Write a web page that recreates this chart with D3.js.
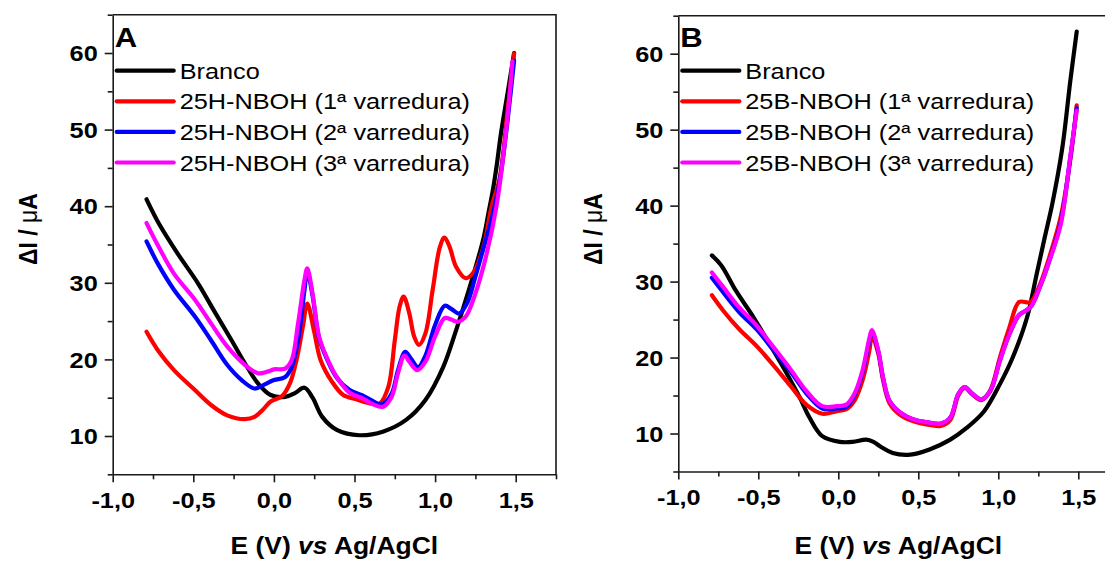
<!DOCTYPE html>
<html lang="pt">
<head>
<meta charset="UTF-8">
<title>DPV 25H-NBOH / 25B-NBOH</title>
<script src="https://d3js.org/d3.v7.min.js"></script>
<style>
  body { margin: 0; background: #fff; }
  svg text { font-family: Arial, "Liberation Sans", sans-serif; fill: #000; }
</style>
</head>
<body>
<svg id="chart" width="1105" height="561"></svg>
<script>
// ---- data: potential (V vs Ag/AgCl) and current (uA) ----
const xMajor = [-1.0, -0.5, 0.0, 0.5, 1.0, 1.5];
const xMinor = [-0.75, -0.25, 0.25, 0.75, 1.25, 1.75];
const yMajor = [10, 20, 30, 40, 50, 60];
const yMinor = [5, 15, 25, 35, 45, 55, 65];

// panel A
const eA_branco = [-0.79,-0.71,-0.6,-0.47,-0.37,-0.26,-0.18,-0.1,-0.02,0.07,0.13,0.19,0.24,0.3,0.39,0.53,0.68,0.82,0.94,1.05,1.13,1.21,1.3,1.33,1.36,1.38,1.41,1.45,1.49];
const iA_branco = [40.9,37.6,33.9,29.9,26.3,22.4,19.5,16.9,15.35,15.1,15.6,16.3,15.0,12.5,10.8,10.1,10.6,12.1,14.7,19.0,23.8,29.1,35.8,39.0,42.3,45.0,49.7,54.8,60.0];
const eA_scan1 = [-0.79,-0.72,-0.62,-0.49,-0.39,-0.29,-0.18,-0.12,-0.07,-0.02,0.05,0.1,0.14,0.18,0.207,0.25,0.29,0.36,0.43,0.51,0.59,0.655,0.71,0.75,0.78,0.805,0.84,0.87,0.9,0.94,0.985,1.03,1.058,1.09,1.13,1.19,1.24,1.3,1.35,1.4,1.45,1.49];
const iA_scan1 = [23.6,21.2,18.6,16.0,14.05,12.7,12.2,12.5,13.4,14.5,15.2,16.9,19.9,24.3,27.3,23.6,19.9,17.1,15.35,14.8,14.3,14.2,16.4,22.5,26.9,28.2,26.0,23.0,21.9,23.4,29.1,34.7,35.9,34.7,32.1,30.6,31.4,34.7,39.9,43.6,52.5,59.9];
const eA_scan2 = [-0.79,-0.72,-0.62,-0.49,-0.39,-0.29,-0.2,-0.12,-0.06,0.0,0.07,0.11,0.15,0.19,0.207,0.24,0.28,0.33,0.39,0.47,0.55,0.61,0.67,0.73,0.77,0.815,0.85,0.895,0.94,1.0,1.06,1.1,1.15,1.2,1.25,1.3,1.35,1.4,1.44,1.49];
const iA_scan2 = [35.4,32.5,29.1,25.6,22.5,19.3,17.3,16.2,16.7,17.3,17.7,19.0,22.5,29.1,31.5,28.3,22.8,20.0,17.6,16.0,15.3,14.6,14.1,15.5,18.6,21.0,20.1,19.0,20.5,24.5,27.0,26.6,26.0,27.4,30.8,34.5,38.3,43.2,49.5,59.0];
const eA_scan3 = [-0.79,-0.72,-0.62,-0.49,-0.39,-0.29,-0.18,-0.1,-0.04,0.0,0.07,0.11,0.15,0.19,0.207,0.24,0.28,0.325,0.39,0.47,0.55,0.61,0.675,0.73,0.77,0.81,0.84,0.89,0.94,1.0,1.06,1.1,1.14,1.19,1.25,1.32,1.38,1.44,1.48];
const iA_scan3 = [37.8,34.9,31.2,27.8,24.7,21.7,19.3,18.2,18.4,18.7,18.8,19.9,24.7,30.4,31.9,28.6,23.0,20.4,17.7,15.65,14.9,14.2,13.8,15.1,18.2,20.5,19.7,18.6,19.7,23.0,25.4,25.2,24.9,25.6,28.6,33.8,39.9,49.7,58.9];

// panel B
const eB_branco = [-0.79,-0.73,-0.64,-0.53,-0.43,-0.33,-0.24,-0.18,-0.1,0.01,0.09,0.175,0.22,0.27,0.34,0.45,0.57,0.7,0.8,0.91,1.01,1.09,1.18,1.24,1.29,1.34,1.4,1.45,1.49];
const iB_branco = [33.45,32.1,28.8,25.3,21.8,18.2,14.7,12.1,9.65,8.9,8.9,9.2,8.9,8.2,7.43,7.22,7.9,9.2,10.7,12.9,16.5,20.0,25.3,31.0,35.8,40.5,47.6,56.4,62.9];
const eB_scans = [-0.79,-0.72,-0.62,-0.51,-0.41,-0.3,-0.2,-0.1,-0.01,0.05,0.1,0.15,0.195,0.21,0.25,0.28,0.32,0.39,0.47,0.55,0.64,0.7,0.75,0.79,0.84,0.895,0.95,1.01,1.07,1.13,1.2,1.26,1.32,1.39,1.45,1.49];
const iB_scan1 = [28.2,26.2,23.75,21.5,19.1,16.3,13.8,12.6,12.95,13.2,14.3,16.9,21.0,22.9,20.5,17.0,14.0,12.4,11.6,11.2,11.0,11.8,15.0,16.0,15.1,14.4,15.7,20.0,24.0,27.3,27.3,29.6,33.3,38.5,46.0,53.2];
const iB_scan2 = [30.5,28.6,26.0,23.7,21.1,18.2,15.3,13.3,13.3,13.5,15.0,17.9,22.3,23.4,20.8,17.3,14.3,12.7,11.85,11.5,11.3,12.1,15.2,16.1,15.2,14.5,15.6,19.6,23.1,25.6,26.6,29.3,32.8,37.8,46.3,52.8];
const iB_scan3 = [31.2,29.3,26.6,24.2,21.5,18.5,15.6,13.6,13.6,13.8,15.2,18.2,22.6,23.6,20.9,17.35,14.3,12.7,11.85,11.5,11.3,12.1,15.2,16.1,15.2,14.5,15.6,19.6,23.1,25.6,26.6,29.3,32.8,37.5,46.5,52.5];

const colors = ["#000000", "#ff0000", "#0000ff", "#ff00ff"];
const namesA = ["Branco", "25H-NBOH (1ª varredura)", "25H-NBOH (2ª varredura)", "25H-NBOH (3ª varredura)"];
const namesB = ["Branco", "25B-NBOH (1ª varredura)", "25B-NBOH (2ª varredura)", "25B-NBOH (3ª varredura)"];

const SX = 1.15; // the original figure is slightly stretched horizontally
const svg = d3.select("#chart");
const zip = (e, i) => e.map((v, k) => ({ e: v, i: i[k] }));
const fmt = d => d.toFixed(1).replace(".", ",");

function drawPanel(p) {
    const x = d3.scaleLinear().domain([-1, 1.75]).range([p.left, p.right]);
    const y = d3.scaleLinear().domain([5, 65]).range([p.bottom, p.top]);
    const g = svg.append("g");

    // frame (top + right)
    g.append("path")
        .attr("d", `M${p.left},${p.top}H${p.right}V${p.bottom}`)
        .attr("fill", "none").attr("stroke", "#1a1a1a").attr("stroke-width", 1.6);

    // x axis
    const xa = g.append("g")
        .attr("transform", `translate(0,${p.bottom})`)
        .call(d3.axisBottom(x).tickValues(xMajor).tickSize(8).tickSizeOuter(0).tickFormat(fmt));
    g.append("g")
        .attr("transform", `translate(0,${p.bottom})`)
        .call(d3.axisBottom(x).tickValues(xMinor).tickSize(5).tickFormat(""))
        .call(s => s.select(".domain").remove());

    // y axis
    const ya = g.append("g")
        .attr("transform", `translate(${p.left},0)`)
        .call(d3.axisLeft(y).tickValues(yMajor).tickSize(8).tickSizeOuter(0).tickFormat(d3.format("d")));
    g.append("g")
        .attr("transform", `translate(${p.left},0)`)
        .call(d3.axisLeft(y).tickValues(yMinor).tickSize(5).tickFormat(""))
        .call(s => s.select(".domain").remove());

    g.selectAll(".domain, .tick line").attr("stroke", "#1a1a1a").attr("stroke-width", 1.6);
    [xa, ya].forEach(a => a.attr("font-size", 22).attr("font-weight", "bold")
        .attr("font-family", "Arial, 'Liberation Sans', sans-serif"));
    xa.selectAll("text").attr("y", 34).attr("dy", null).attr("transform", `scale(${SX},1)`);
    ya.selectAll("text").attr("x", -15 / SX).attr("dy", "0.35em").attr("transform", `scale(${SX},1)`);

    // curves
    const line = d3.line().x(d => x(d.e)).y(d => y(d.i)).curve(d3.curveCatmullRom.alpha(0.5));
    p.series.forEach((s, k) => {
        g.append("path").datum(s)
            .attr("d", line)
            .attr("fill", "none")
            .attr("stroke", colors[k])
            .attr("stroke-width", 4.2)
            .attr("stroke-linejoin", "round")
            .attr("stroke-linecap", "round");
    });

    // legend
    p.names.forEach((n, k) => {
        const ry = 70.7 + k * 30.6;
        g.append("line")
            .attr("x1", p.left + 4).attr("x2", p.left + 61)
            .attr("y1", ry).attr("y2", ry)
            .attr("stroke", colors[k]).attr("stroke-width", 4.2).attr("stroke-linecap", "round");
        g.append("text")
            .attr("transform", `translate(${p.left + 67},${ry + 8}) scale(${SX},1)`)
            .attr("font-size", 22)
            .text(n);
    });

    // panel letter
    g.append("text")
        .attr("transform", `translate(${p.left + 2},46.5) scale(${SX},1)`)
        .attr("font-size", 27).attr("font-weight", "bold")
        .text(p.letter);

    // axis titles
    const xt = g.append("text")
        .attr("transform", `translate(${(p.left + p.right) / 2},554) scale(${SX},1)`)
        .attr("text-anchor", "middle").attr("font-size", 23).attr("font-weight", "bold");
    xt.append("tspan").text("E (V) ");
    xt.append("tspan").attr("font-style", "italic").text("vs");
    xt.append("tspan").text(" Ag/AgCl");

    const yt = g.append("text")
        .attr("transform", `translate(${p.left - 76},229) scale(${SX},1) rotate(-90)`)
        .attr("text-anchor", "middle").attr("font-size", 23).attr("font-weight", "bold");
    yt.append("tspan").text("ΔI / ");
    yt.append("tspan").attr("font-weight", "normal").text("μ");
    yt.append("tspan").text("A");
}

drawPanel({
    letter: "A", left: 112.7, right: 556, top: 14.7, bottom: 474.3,
    names: namesA,
    series: [zip(eA_branco, iA_branco), zip(eA_scan1, iA_scan1), zip(eA_scan2, iA_scan2), zip(eA_scan3, iA_scan3)]
});
drawPanel({
    letter: "B", left: 678.3, right: 1118.3, top: 15.7, bottom: 471.5,
    names: namesB,
    series: [zip(eB_branco, iB_branco), zip(eB_scans, iB_scan1), zip(eB_scans, iB_scan2), zip(eB_scans, iB_scan3)]
});
</script>
</body>
</html>
